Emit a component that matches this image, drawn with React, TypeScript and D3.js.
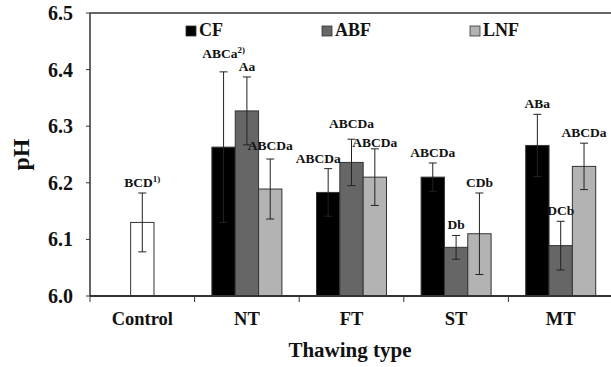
import React from 'react';
import * as d3 from 'd3';

const groups = ['Control', 'NT', 'FT', 'ST', 'MT'];
const series = ['CF', 'ABF', 'LNF'];
const seriesColors = ['#000000', '#666666', '#b3b3b3'];
const yTicks = [6.0, 6.1, 6.2, 6.3, 6.4, 6.5];

// control (single white bar)
const controlMean = 6.13;
const controlErr = 0.052;
const controlLabel = 'BCD';
const controlSup = '1)';

// treated groups NT, FT, ST, MT
const cfMeans = [6.263, 6.183, 6.21, 6.266];
const cfErrs = [0.133, 0.042, 0.025, 0.055];
const cfLabels = ['ABCa', 'ABCDa', 'ABCDa', 'ABa'];
const abfMeans = [6.327, 6.236, 6.086, 6.089];
const abfErrs = [0.06, 0.041, 0.021, 0.043];
const abfLabels = ['Aa', 'ABCDa', 'Db', 'DCb'];
const lnfMeans = [6.189, 6.21, 6.11, 6.229];
const lnfErrs = [0.053, 0.05, 0.072, 0.041];
const lnfLabels = ['ABCDa', 'ABCDa', 'CDb', 'ABCDa'];

const W = 611;
const H = 367;
const FONT = 'Liberation Serif, Times New Roman, DejaVu Serif, serif';
const INK = '#333';

// hand nudges so the letter labels don't collide (as in the source)
const labelNudge: Record<string, { dx?: number; dy?: number; sup?: string }> = {
  'NT-CF': { dy: -8, sup: '2)' },
  'NT-LNF': { dy: -3 },
  'FT-CF': { dx: -10 },
  'FT-ABF': { dy: -5 },
  'FT-LNF': { dy: 4 },
};

const App = () => {
  const x = d3.scaleBand().domain(groups).range([90, 613]);
  const y = d3.scaleLinear().domain([6.0, 6.5]).range([296, 13]);
  const inner = d3.scaleBand().domain(series).range([-35, 35]);

  const bars: { key: string; cx: number; x0: number; w: number; mean: number; err: number; fill: string; label: string; sup?: string; dx: number; dy: number }[] = [];

  const bw = inner.bandwidth();
  const cc = (x(groups[0]) as number) + x.bandwidth() / 2;
  bars.push({ key: 'Control', cx: cc, x0: cc - bw / 2, w: bw, mean: controlMean, err: controlErr, fill: '#ffffff', label: controlLabel, sup: controlSup, dx: 0, dy: 0 });

  const allMeans = [cfMeans, abfMeans, lnfMeans];
  const allErrs = [cfErrs, abfErrs, lnfErrs];
  const allLabels = [cfLabels, abfLabels, lnfLabels];
  groups.slice(1).forEach((g, gi) => {
    const gc = (x(g) as number) + x.bandwidth() / 2;
    series.forEach((s, si) => {
      const x0 = gc + (inner(s) as number);
      const n = labelNudge[`${g}-${s}`] || {};
      bars.push({
        key: `${g}-${s}`,
        cx: x0 + bw / 2,
        x0,
        w: bw,
        mean: allMeans[si][gi],
        err: allErrs[si][gi],
        fill: seriesColors[si],
        label: allLabels[si][gi],
        sup: n.sup,
        dx: n.dx || 0,
        dy: n.dy || 0,
      });
    });
  });

  const legendX = [186, 322, 470];

  return (
    <svg width={W} height={H} style={{ position: 'absolute', left: 0, top: 0, background: '#fff', fontFamily: FONT, fontWeight: 700 }}>
      {/* frame: top line + axes */}
      <line x1={90} x2={W} y1={y(6.5)} y2={y(6.5)} stroke={INK} strokeWidth={1.5} />
      <line x1={90} x2={90} y1={y(6.5)} y2={y(6.0)} stroke={INK} strokeWidth={1.5} />

      {yTicks.map((t) => (
        <g key={t}>
          <line x1={86} x2={90} y1={y(t)} y2={y(t)} stroke={INK} strokeWidth={1} />
          <text x={73} y={y(t)} dy="0.35em" textAnchor="end" fontSize={20} fill="#111">
            {t.toFixed(1)}
          </text>
        </g>
      ))}

      {bars.map((b) => (
        <rect key={b.key} x={b.x0} y={y(b.mean)} width={b.w} height={y(6.0) - y(b.mean)} fill={b.fill} stroke={INK} strokeWidth={1} />
      ))}

      {bars.map((b) => (
        <g key={b.key + '-err'} stroke="#222" strokeWidth={1}>
          <line x1={b.cx} x2={b.cx} y1={y(b.mean + b.err)} y2={y(b.mean - b.err)} />
          <line x1={b.cx - 4} x2={b.cx + 4} y1={y(b.mean + b.err)} y2={y(b.mean + b.err)} />
          <line x1={b.cx - 4} x2={b.cx + 4} y1={y(b.mean - b.err)} y2={y(b.mean - b.err)} />
        </g>
      ))}

      {bars.map((b) => (
        <text key={b.key + '-lab'} x={b.cx + b.dx} y={y(b.mean + b.err) - 6 + b.dy} textAnchor="middle" fontSize={13.5} fill="#111">
          {b.label}
          {b.sup && (
            <tspan fontSize={9} dy={-5}>
              {b.sup}
            </tspan>
          )}
        </text>
      ))}

      {/* x axis */}
      <line x1={90} x2={W} y1={y(6.0)} y2={y(6.0)} stroke={INK} strokeWidth={2} />
      {groups.map((g) => (
        <g key={g}>
          <line x1={x(g) as number} x2={x(g) as number} y1={y(6.0)} y2={y(6.0) + 6} stroke={INK} strokeWidth={1} />
          <text x={(x(g) as number) + x.bandwidth() / 2} y={325} textAnchor="middle" fontSize={18.5} fill="#111">
            {g}
          </text>
        </g>
      ))}

      {/* legend */}
      {series.map((s, i) => (
        <g key={s}>
          <rect x={legendX[i]} y={26} width={10} height={10} fill={seriesColors[i]} stroke={INK} strokeWidth={0.8} />
          <text x={legendX[i] + 13} y={36} fontSize={18} fill="#111">
            {s}
          </text>
        </g>
      ))}

      <text x={350} y={357} textAnchor="middle" fontSize={21} fill="#111">
        Thawing type
      </text>
      <text transform={`translate(29,${(y(6.5) + y(6.0)) / 2}) rotate(-90)`} textAnchor="middle" fontSize={24} fill="#111">
        pH
      </text>
    </svg>
  );
};

export default App;
